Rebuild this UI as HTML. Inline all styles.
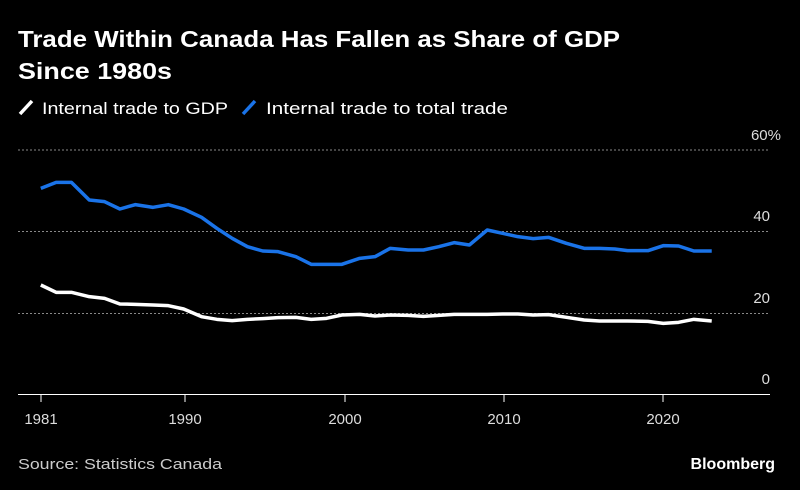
<!DOCTYPE html>
<html><head><style>
body{margin:0;background:#000;width:800px;height:490px;overflow:hidden;font-family:"Liberation Sans",sans-serif;color:#fff}
</style></head><body>
<svg width="800" height="490" xmlns="http://www.w3.org/2000/svg" style="position:absolute;left:0;top:0">
<text x="18" y="47" font-size="23" font-weight="bold" fill="#fff" textLength="602" lengthAdjust="spacingAndGlyphs">Trade Within Canada Has Fallen as Share of GDP</text>
<text x="18" y="79" font-size="23" font-weight="bold" fill="#fff" textLength="154" lengthAdjust="spacingAndGlyphs">Since 1980s</text>
<line x1="20" y1="114" x2="32" y2="101" stroke="#fff" stroke-width="3.5"/>
<text x="42" y="114" font-size="17" fill="#fff" textLength="186" lengthAdjust="spacingAndGlyphs">Internal trade to GDP</text>
<line x1="243" y1="114" x2="255" y2="101" stroke="#1a73e8" stroke-width="3.5"/>
<text x="266" y="114" font-size="17" fill="#fff" textLength="242" lengthAdjust="spacingAndGlyphs">Internal trade to total trade</text>
<g stroke="#888" stroke-width="1" stroke-dasharray="2,2">
<line x1="18" y1="150" x2="770" y2="150"/><line x1="18" y1="231.5" x2="770" y2="231.5"/><line x1="18" y1="313.5" x2="770" y2="313.5"/>
</g>
<g font-size="15" fill="#ddd" text-anchor="end">
<text x="781" y="140">60%</text><text x="770" y="221">40</text><text x="770" y="303">20</text><text x="770" y="384">0</text>
</g>
<line x1="18" y1="394.5" x2="770" y2="394.5" stroke="#fff" stroke-width="1"/>
<g stroke="#fff" stroke-width="1"><line x1="41" y1="394" x2="41" y2="402"/><line x1="185" y1="394" x2="185" y2="402"/><line x1="345" y1="394" x2="345" y2="402"/><line x1="504" y1="394" x2="504" y2="402"/><line x1="663" y1="394" x2="663" y2="402"/></g>
<g font-size="15" fill="#ddd" text-anchor="middle">
<text x="41" y="424">1981</text><text x="185" y="424">1990</text><text x="345" y="424">2000</text><text x="504" y="424">2010</text><text x="663" y="424">2020</text>
</g>
<g transform="translate(0,130) scale(0.5102,0.33333)" fill="none" stroke-linejoin="round">
<polyline vector-effect="non-scaling-stroke" stroke="#1a73e8" stroke-width="3.5" points="80,175 110,157 140,157 175,210 205,215 235,237 265,224 300,232 330,224 360,237 395,262 425,295 455,325 485,350 515,363 545,365 580,380 610,403 640,403 670,403 705,385 735,380 765,355 800,360 830,360 860,350 890,338 920,345 955,300 985,310 1015,320 1045,326 1075,322 1110,340 1145,355 1175,355 1205,357 1230,362 1270,362 1300,347 1330,348 1360,363 1395,363"/>
<polyline vector-effect="non-scaling-stroke" stroke="#fff" stroke-width="3.5" points="80,465 110,487 140,487 175,500 205,505 235,522 265,523 300,525 330,527 360,537 395,560 425,568 455,572 485,568 515,566 545,563 580,562 610,568 640,565 670,555 705,553 735,558 765,555 800,556 830,559 860,556 890,553 920,553 955,553 985,552 1015,552 1045,555 1075,554 1110,562 1145,570 1175,573 1205,573 1230,573 1270,574 1300,580 1330,577 1360,568 1395,573"/>
</g>
<text x="18" y="469" font-size="15" fill="#ccc" textLength="204" lengthAdjust="spacingAndGlyphs">Source: Statistics Canada</text>
<text x="775" y="469" font-size="16" font-weight="bold" fill="#fff" text-anchor="end">Bloomberg</text>
</svg>
</body></html>
